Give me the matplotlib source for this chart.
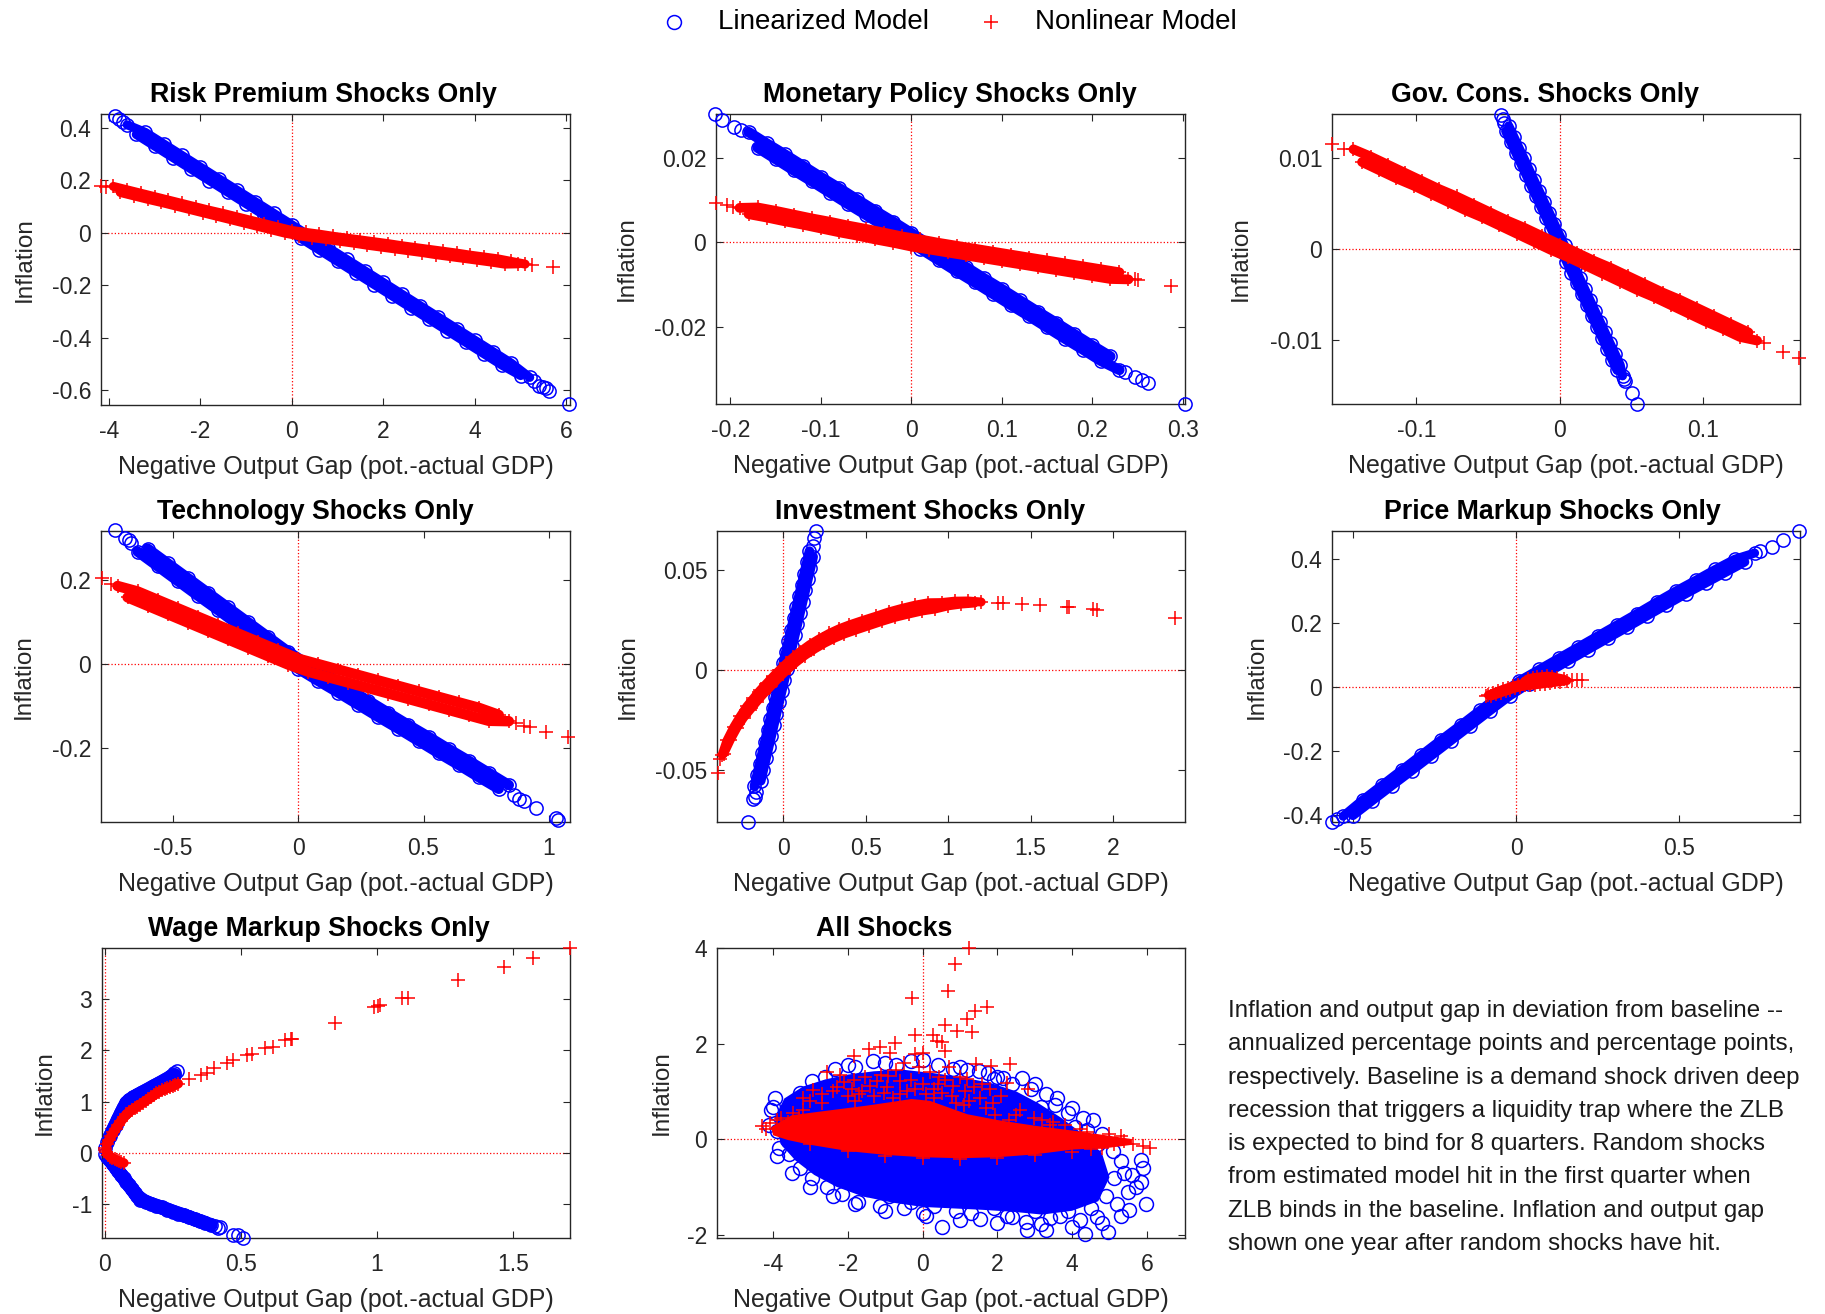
import matplotlib
matplotlib.use('Agg')
import matplotlib.pyplot as plt
from matplotlib.lines import Line2D
from matplotlib.ticker import FormatStrFormatter

plt.rcParams['font.family'] = ['Liberation Sans', 'DejaVu Sans']
plt.rcParams['axes.unicode_minus'] = False

W, H = 1825, 1314
XLABEL = 'Negative Output Gap (pot.-actual GDP)'
YLABEL = 'Inflation'

# ---- Risk premium shocks (x = neg. output gap, y = inflation) ----
risk_lin = [(-3.60, 0.411), (-3.40, 0.374), (-3.20, 0.382), (-3.00, 0.330), (-2.80, 0.338), (-2.60, 0.286),
            (-2.40, 0.294), (-2.20, 0.242), (-2.00, 0.250), (-1.80, 0.198), (-1.60, 0.206), (-1.40, 0.154),
            (-1.20, 0.162), (-1.00, 0.110), (-0.80, 0.118), (-0.60, 0.066), (-0.40, 0.074), (-0.20, 0.022),
            (0.00, 0.030), (0.20, -0.022), (0.40, -0.014), (0.60, -0.066), (0.80, -0.058), (1.00, -0.110),
            (1.20, -0.102), (1.40, -0.154), (1.60, -0.146), (1.80, -0.198), (2.00, -0.190), (2.20, -0.242),
            (2.40, -0.234), (2.60, -0.286), (2.80, -0.278), (3.00, -0.330), (3.20, -0.322), (3.40, -0.374),
            (3.60, -0.366), (3.80, -0.418), (4.00, -0.410), (4.20, -0.462), (4.40, -0.454), (4.60, -0.506),
            (4.80, -0.498), (5.00, -0.545), (5.20, -0.552)]
risk_lin_out = [(-3.87, 0.446), (-3.78, 0.433), (-3.70, 0.421), (5.30, -0.566), (5.40, -0.585), (5.48, -0.588),
                (5.55, -0.592), (5.62, -0.603), (6.06, -0.652)]
risk_nl = [(-3.90, 0.176), (-3.75, 0.153), (-3.60, 0.163), (-3.45, 0.140), (-3.30, 0.150), (-3.15, 0.127),
           (-3.00, 0.137), (-2.85, 0.115), (-2.70, 0.124), (-2.55, 0.102), (-2.40, 0.111), (-2.25, 0.089),
           (-2.10, 0.098), (-1.95, 0.076), (-1.80, 0.085), (-1.65, 0.063), (-1.50, 0.073), (-1.35, 0.050),
           (-1.20, 0.060), (-1.05, 0.037), (-0.90, 0.047), (-0.75, 0.024), (-0.60, 0.034), (-0.45, 0.011),
           (-0.30, 0.021), (-0.15, -0.002), (0.00, 0.008), (0.15, -0.012), (0.30, 0.001), (0.45, -0.019),
           (0.60, -0.006), (0.75, -0.026), (0.90, -0.014), (1.05, -0.033), (1.20, -0.021), (1.35, -0.040),
           (1.50, -0.028), (1.65, -0.048), (1.80, -0.035), (1.95, -0.055), (2.10, -0.042), (2.25, -0.062),
           (2.40, -0.050), (2.55, -0.069), (2.70, -0.057), (2.85, -0.076), (3.00, -0.064), (3.15, -0.084),
           (3.30, -0.071), (3.45, -0.091), (3.60, -0.078), (3.75, -0.098), (3.90, -0.086), (4.05, -0.105),
           (4.20, -0.093), (4.35, -0.112), (4.50, -0.100), (4.65, -0.120), (4.80, -0.110), (4.95, -0.119),
           (5.10, -0.120)]
risk_nl_out = [(-4.17, 0.179), (-4.05, 0.174), (5.25, -0.122), (5.70, -0.130)]

# ---- Monetary policy shocks ----
mon_lin = [(-0.180, 0.0262), (-0.170, 0.0225), (-0.160, 0.0235), (-0.150, 0.0198), (-0.140, 0.0209),
           (-0.130, 0.0171), (-0.120, 0.0182), (-0.110, 0.0145), (-0.100, 0.0155), (-0.090, 0.0118),
           (-0.080, 0.0129), (-0.070, 0.0091), (-0.060, 0.0102), (-0.050, 0.0065), (-0.040, 0.0075),
           (-0.030, 0.0038), (-0.020, 0.0049), (-0.010, 0.0011), (0.000, 0.0022), (0.010, -0.0015),
           (0.020, -0.0005), (0.030, -0.0042), (0.040, -0.0031), (0.050, -0.0069), (0.060, -0.0058),
           (0.070, -0.0095), (0.080, -0.0085), (0.090, -0.0122), (0.100, -0.0111), (0.110, -0.0149),
           (0.120, -0.0138), (0.130, -0.0175), (0.140, -0.0165), (0.150, -0.0202), (0.160, -0.0191),
           (0.170, -0.0229), (0.180, -0.0218), (0.190, -0.0255), (0.200, -0.0245), (0.210, -0.0282),
           (0.220, -0.0271), (0.230, -0.0303)]
mon_lin_out = [(-0.217, 0.0306), (-0.209, 0.0291), (-0.196, 0.0275), (-0.188, 0.0266), (0.236, -0.0307),
               (0.247, -0.0319), (0.2555, -0.0327), (0.262, -0.0333), (0.302, -0.0383)]
mon_nl = [(-0.19, 0.0082), (-0.18, 0.0067), (-0.17, 0.0083), (-0.16, 0.0059), (-0.15, 0.0075), (-0.14, 0.0050),
          (-0.13, 0.0066), (-0.12, 0.0042), (-0.11, 0.0057), (-0.10, 0.0033), (-0.09, 0.0049), (-0.08, 0.0024),
          (-0.07, 0.0040), (-0.06, 0.0016), (-0.05, 0.0032), (-0.04, 0.0007), (-0.03, 0.0023), (-0.02, -0.0001),
          (-0.01, 0.0014), (0.00, -0.0010), (0.01, 0.0007), (0.02, -0.0017), (0.03, -0.0001), (0.04, -0.0024),
          (0.05, -0.0008), (0.06, -0.0031), (0.07, -0.0015), (0.08, -0.0038), (0.09, -0.0022), (0.10, -0.0045),
          (0.11, -0.0029), (0.12, -0.0052), (0.13, -0.0036), (0.14, -0.0059), (0.15, -0.0043), (0.16, -0.0066),
          (0.17, -0.0050), (0.18, -0.0073), (0.19, -0.0057), (0.20, -0.0080), (0.21, -0.0064), (0.22, -0.0087),
          (0.23, -0.0071), (0.24, -0.0088)]
mon_nl_out = [(-0.216, 0.0093), (-0.204, 0.0089), (-0.197, 0.0084), (0.247, -0.0088), (0.250, -0.0090),
              (0.287, -0.0103)]

# ---- Government consumption shocks ----
gov_lin = [(-0.0355, 0.0136), (-0.0377, 0.0130), (-0.0319, 0.0124), (-0.0342, 0.0118), (-0.0284, 0.0112),
           (-0.0306, 0.0106), (-0.0248, 0.0100), (-0.0271, 0.0094), (-0.0213, 0.0088), (-0.0235, 0.0082),
           (-0.0178, 0.0076), (-0.0200, 0.0070), (-0.0142, 0.0064), (-0.0165, 0.0058), (-0.0107, 0.0052),
           (-0.0129, 0.0046), (-0.0071, 0.0040), (-0.0094, 0.0034), (-0.0036, 0.0028), (-0.0058, 0.0022),
           (-0.0001, 0.0016), (-0.0023, 0.0010), (0.0035, 0.0004), (0.0012, -0.0002), (0.0070, -0.0008),
           (0.0048, -0.0014), (0.0106, -0.0020), (0.0083, -0.0026), (0.0141, -0.0032), (0.0119, -0.0038),
           (0.0176, -0.0044), (0.0154, -0.0050), (0.0212, -0.0056), (0.0189, -0.0062), (0.0247, -0.0068),
           (0.0225, -0.0074), (0.0283, -0.0080), (0.0260, -0.0086), (0.0318, -0.0092), (0.0296, -0.0098),
           (0.0353, -0.0104), (0.0331, -0.0110), (0.0389, -0.0116), (0.0366, -0.0122), (0.0424, -0.0128),
           (0.0402, -0.0134), (0.0440, -0.0140)]
gov_lin_out = [(-0.0410, 0.0148), (-0.0395, 0.0143), (-0.0385, 0.0139), (0.0450, -0.0143), (0.0457, -0.0146),
               (0.0507, -0.0159), (0.0539, -0.0171)]
gov_nl = [(-0.144, 0.0110), (-0.138, 0.0096), (-0.132, 0.0102), (-0.126, 0.0087), (-0.120, 0.0093),
          (-0.114, 0.0078), (-0.108, 0.0084), (-0.102, 0.0070), (-0.096, 0.0075), (-0.090, 0.0061),
          (-0.084, 0.0066), (-0.078, 0.0052), (-0.072, 0.0058), (-0.066, 0.0043), (-0.060, 0.0049),
          (-0.054, 0.0035), (-0.048, 0.0040), (-0.042, 0.0026), (-0.036, 0.0031), (-0.030, 0.0017),
          (-0.024, 0.0023), (-0.018, 0.0008), (-0.012, 0.0014), (-0.006, -0.0001), (0.000, 0.0005),
          (0.006, -0.0009), (0.012, -0.0004), (0.018, -0.0018), (0.024, -0.0013), (0.030, -0.0027),
          (0.036, -0.0021), (0.042, -0.0036), (0.048, -0.0030), (0.054, -0.0045), (0.060, -0.0039),
          (0.066, -0.0053), (0.072, -0.0048), (0.078, -0.0062), (0.084, -0.0056), (0.090, -0.0071),
          (0.096, -0.0065), (0.102, -0.0080), (0.108, -0.0074), (0.114, -0.0088), (0.120, -0.0083),
          (0.126, -0.0097), (0.132, -0.0092), (0.138, -0.0101)]
gov_nl_out = [(-0.159, 0.0116), (-0.1503, 0.0110), (0.1428, -0.0104), (0.1563, -0.0114), (0.167, -0.0120)]

# ---- Technology shocks ----
tech_lin = [(-0.64, 0.267), (-0.60, 0.274), (-0.56, 0.232), (-0.52, 0.239), (-0.48, 0.197), (-0.44, 0.204),
            (-0.40, 0.162), (-0.36, 0.169), (-0.32, 0.128), (-0.28, 0.134), (-0.24, 0.093), (-0.20, 0.099),
            (-0.16, 0.058), (-0.12, 0.064), (-0.08, 0.023), (-0.04, 0.029), (0.00, -0.012), (0.04, -0.002),
            (0.08, -0.041), (0.12, -0.031), (0.16, -0.069), (0.20, -0.060), (0.24, -0.098), (0.28, -0.088),
            (0.32, -0.127), (0.36, -0.117), (0.40, -0.155), (0.44, -0.146), (0.48, -0.184), (0.52, -0.174),
            (0.56, -0.213), (0.60, -0.203), (0.64, -0.241), (0.68, -0.231), (0.72, -0.270), (0.76, -0.260),
            (0.80, -0.298), (0.84, -0.289)]
tech_lin_out = [(-0.730, 0.318), (-0.690, 0.300), (-0.675, 0.294), (-0.665, 0.288), (0.860, -0.312),
                (0.880, -0.322), (0.900, -0.328), (0.950, -0.344), (1.030, -0.368), (1.036, -0.373)]
tech_nl = [(-0.72, 0.185), (-0.68, 0.158), (-0.64, 0.172), (-0.60, 0.138), (-0.56, 0.152), (-0.52, 0.118),
           (-0.48, 0.132), (-0.44, 0.098), (-0.40, 0.112), (-0.36, 0.078), (-0.32, 0.092), (-0.28, 0.058),
           (-0.24, 0.072), (-0.20, 0.038), (-0.16, 0.052), (-0.12, 0.018), (-0.08, 0.032), (-0.04, -0.002),
           (0.00, 0.012), (0.04, -0.019), (0.08, -0.001), (0.12, -0.032), (0.16, -0.014), (0.20, -0.045),
           (0.24, -0.027), (0.28, -0.058), (0.32, -0.040), (0.36, -0.071), (0.40, -0.053), (0.44, -0.084),
           (0.48, -0.066), (0.52, -0.097), (0.56, -0.079), (0.60, -0.110), (0.64, -0.092), (0.68, -0.123),
           (0.72, -0.105), (0.76, -0.136), (0.80, -0.122), (0.84, -0.137)]
tech_nl_out = [(-0.781, 0.203), (-0.745, 0.190), (0.870, -0.142), (0.900, -0.148), (0.926, -0.151),
               (0.989, -0.162), (1.076, -0.174)]

# ---- Investment shocks ----
inv_lin = [(0.1595, 0.0594), (0.1816, 0.0566), (0.1436, 0.0538), (0.1657, 0.0510), (0.1277, 0.0482),
           (0.1498, 0.0454), (0.1119, 0.0426), (0.1339, 0.0398), (0.0960, 0.0370), (0.1180, 0.0342),
           (0.0801, 0.0314), (0.1021, 0.0286), (0.0642, 0.0258), (0.0863, 0.0230), (0.0483, 0.0202),
           (0.0704, 0.0174), (0.0324, 0.0146), (0.0545, 0.0118), (0.0165, 0.0090), (0.0386, 0.0062),
           (0.0006, 0.0034), (0.0227, 0.0006), (-0.0152, -0.0022), (0.0068, -0.0050), (-0.0311, -0.0078),
           (-0.0091, -0.0106), (-0.0470, -0.0134), (-0.0250, -0.0162), (-0.0629, -0.0190), (-0.0408, -0.0218),
           (-0.0788, -0.0246), (-0.0567, -0.0274), (-0.0947, -0.0302), (-0.0726, -0.0330), (-0.1106, -0.0358),
           (-0.0885, -0.0386), (-0.1265, -0.0414), (-0.1044, -0.0442), (-0.1423, -0.0470), (-0.1203, -0.0498),
           (-0.1582, -0.0526), (-0.1362, -0.0554), (-0.1741, -0.0582)]
inv_lin_out = [(0.197, 0.0695), (0.190, 0.0660), (0.1825, 0.0622), (-0.1671, -0.0610), (-0.173, -0.0633),
               (-0.180, -0.0645), (-0.214, -0.0758)]
inv_nl = [(-0.37, -0.0425), (-0.36, -0.0418), (-0.34, -0.0352), (-0.32, -0.0348), (-0.30, -0.0287),
          (-0.28, -0.0288), (-0.26, -0.0232), (-0.24, -0.0238), (-0.22, -0.0182), (-0.20, -0.0198),
          (-0.18, -0.0142), (-0.16, -0.0158), (-0.14, -0.0102), (-0.12, -0.0120), (-0.10, -0.0067),
          (-0.08, -0.0086), (-0.06, -0.0032), (-0.04, -0.0051), (-0.02, 0.0001), (0.00, -0.0018),
          (0.02, 0.0033), (0.04, 0.0012), (0.06, 0.0063), (0.08, 0.0040), (0.10, 0.0090), (0.13, 0.0072),
          (0.16, 0.0126), (0.19, 0.0105), (0.22, 0.0156), (0.25, 0.0134), (0.28, 0.0183), (0.31, 0.0159),
          (0.34, 0.0206), (0.37, 0.0180), (0.40, 0.0225), (0.44, 0.0200), (0.48, 0.0247), (0.52, 0.0222),
          (0.56, 0.0268), (0.60, 0.0244), (0.64, 0.0290), (0.68, 0.0264), (0.72, 0.0308), (0.76, 0.0280),
          (0.80, 0.0324), (0.84, 0.0295), (0.88, 0.0336), (0.92, 0.0305), (0.96, 0.0337), (1.00, 0.0321),
          (1.04, 0.0344), (1.08, 0.0330), (1.12, 0.0345), (1.16, 0.0335), (1.20, 0.0340)]
inv_nl_out = [(-0.395, -0.0517), (-0.380, -0.0445), (1.30, 0.0336), (1.33, 0.0334), (1.45, 0.0328),
              (1.56, 0.0326), (1.72, 0.0313), (1.73, 0.0317), (1.88, 0.0305), (1.90, 0.0300), (2.375, 0.0258)]

# ---- Price markup shocks ----
price_lin = [(-0.53, -0.405), (-0.50, -0.403), (-0.47, -0.354), (-0.44, -0.356), (-0.41, -0.307),
             (-0.38, -0.309), (-0.35, -0.260), (-0.32, -0.263), (-0.29, -0.213), (-0.26, -0.216),
             (-0.23, -0.166), (-0.20, -0.169), (-0.17, -0.120), (-0.14, -0.122), (-0.11, -0.073),
             (-0.08, -0.075), (-0.05, -0.026), (-0.02, -0.029), (0.01, 0.019), (0.04, 0.010), (0.07, 0.054),
             (0.10, 0.046), (0.13, 0.089), (0.16, 0.081), (0.19, 0.124), (0.22, 0.116), (0.25, 0.159),
             (0.28, 0.151), (0.31, 0.194), (0.34, 0.186), (0.37, 0.229), (0.40, 0.221), (0.43, 0.265),
             (0.46, 0.256), (0.49, 0.300), (0.52, 0.291), (0.55, 0.333), (0.58, 0.324), (0.61, 0.367),
             (0.64, 0.357), (0.67, 0.399), (0.70, 0.390), (0.73, 0.418)]
price_lin_out = [(-0.565, -0.422), (-0.548, -0.414), (0.745, 0.424), (0.783, 0.437), (0.818, 0.458),
                 (0.867, 0.486)]
price_nl = [(-0.085, -0.026), (-0.078, -0.029), (-0.070, -0.020), (-0.062, -0.024), (-0.055, -0.014),
            (-0.048, -0.019), (-0.040, -0.008), (-0.032, -0.014), (-0.025, -0.003), (-0.018, -0.009),
            (-0.010, 0.002), (-0.003, -0.004), (0.005, 0.006), (0.012, 0.000), (0.020, 0.010), (0.028, 0.004),
            (0.035, 0.024), (0.043, 0.004), (0.050, 0.028), (0.058, 0.006), (0.065, 0.030), (0.073, 0.008),
            (0.080, 0.032), (0.088, 0.010), (0.095, 0.033), (0.103, 0.012), (0.110, 0.032), (0.118, 0.014),
            (0.125, 0.028), (0.135, 0.016), (0.145, 0.024), (0.155, 0.019)]
price_nl_out = [(-0.092, -0.030), (0.170, 0.021), (0.185, 0.022), (0.203, 0.021)]

# ---- Wage markup shocks ----
wage_lin_up = [(0.000, 0.10), (0.010, 0.21), (0.020, 0.33), (0.030, 0.44), (0.040, 0.55), (0.050, 0.66),
               (0.060, 0.77), (0.070, 0.88), (0.080, 0.98), (0.090, 1.03), (0.105, 1.08), (0.120, 1.12),
               (0.135, 1.17), (0.150, 1.21), (0.165, 1.25), (0.180, 1.30), (0.195, 1.34), (0.210, 1.38),
               (0.225, 1.43), (0.240, 1.47), (0.255, 1.52)]
wage_lin_dn = [(0.000, -0.02), (0.010, -0.09), (0.020, -0.15), (0.030, -0.22), (0.040, -0.29), (0.050, -0.36),
               (0.060, -0.43), (0.070, -0.50), (0.080, -0.57), (0.090, -0.64), (0.100, -0.71), (0.110, -0.78),
               (0.120, -0.85), (0.131, -0.92), (0.150, -0.96), (0.170, -1.00), (0.190, -1.04), (0.210, -1.07),
               (0.230, -1.11), (0.250, -1.15), (0.270, -1.19), (0.290, -1.22), (0.310, -1.26), (0.330, -1.30),
               (0.350, -1.34), (0.370, -1.37), (0.390, -1.41)]
wage_lin_out = [(0.255, 1.56), (0.265, 1.60), (0.245, 1.50), (0.405, -1.44), (0.415, -1.47), (0.425, -1.45),
                (0.473, -1.61), (0.490, -1.60), (0.510, -1.66)]
wage_nl_up = [(0.000, 0.10), (0.008, 0.17), (0.016, 0.25), (0.024, 0.33), (0.032, 0.40), (0.040, 0.47),
              (0.050, 0.55), (0.060, 0.62), (0.070, 0.69), (0.080, 0.75), (0.090, 0.80), (0.100, 0.84),
              (0.110, 0.87), (0.120, 0.90), (0.130, 0.94), (0.140, 0.98), (0.150, 1.01), (0.160, 1.05),
              (0.170, 1.08), (0.180, 1.12), (0.190, 1.16), (0.200, 1.19), (0.210, 1.22), (0.220, 1.24),
              (0.230, 1.26), (0.240, 1.28), (0.250, 1.30), (0.260, 1.33), (0.270, 1.35)]
wage_nl_dn = [(0.000, 0.05), (0.005, 0.02), (0.012, -0.04), (0.020, -0.08), (0.028, -0.11), (0.036, -0.13),
              (0.044, -0.15), (0.052, -0.17), (0.060, -0.19), (0.070, -0.20)]
wage_nl_out = [(0.310, 1.44), (0.355, 1.52), (0.375, 1.55), (0.400, 1.65), (0.451, 1.745), (0.473, 1.81),
               (0.524, 1.91), (0.540, 1.93), (0.589, 2.04), (0.618, 2.07), (0.662, 2.20), (0.684, 2.23),
               (0.690, 2.22), (0.845, 2.54), (0.990, 2.85), (1.005, 2.86), (1.012, 2.88), (1.093, 3.02),
               (1.115, 3.03), (1.297, 3.37), (1.467, 3.62), (1.573, 3.80), (1.710, 4.00)]

# ---- All shocks: outline of the solid core and scattered points ----
all_lin_core = [(-3.95, 0.45), (-3.7, 0.85), (-3.2, 1.1), (-2.6, 1.25), (-2.0, 1.35), (-1.3, 1.42), (-0.5, 1.45),
                (0.3, 1.38), (1.0, 1.3), (1.8, 1.18), (2.5, 1.0), (3.1, 0.75), (3.7, 0.45), (4.3, 0.1),
                (4.8, -0.3), (5.0, -0.8), (4.7, -1.3), (4.0, -1.5), (3.2, -1.58), (2.4, -1.52), (1.6, -1.48),
                (0.8, -1.45), (0.0, -1.42), (-0.8, -1.33), (-1.6, -1.2), (-2.3, -1.0), (-2.9, -0.75),
                (-3.4, -0.45), (-3.8, -0.1)]
all_lin_pts = [(-3.94, 0.85), (-3.99, 0.68), (-3.89, 0.18), (-3.84, -0.18), (-3.58, -0.32), (-3.28, -0.60),
               (-2.97, -0.82), (-2.56, -1.00), (-2.15, -1.14), (-1.74, -1.31), (-1.13, -1.39), (-0.31, -1.31),
               (0.10, -1.60), (0.51, -1.85), (1.54, -1.67), (2.25, -1.60), (2.76, -1.74), (3.17, -1.78),
               (3.68, -1.60), (4.35, -1.99), (4.96, -1.95), (4.66, -1.63), (5.53, -1.49), (5.99, -1.35),
               (5.83, -0.89), (5.89, -0.60), (5.83, -0.43), (5.32, -0.46), (5.12, -0.82), (4.55, 0.39),
               (4.09, 0.25), (3.53, 0.71), (3.17, 0.68), (2.66, 1.28), (2.15, 1.28), (1.74, 1.39), (0.82, 1.46),
               (-0.31, 1.63), (-1.33, 1.63), (-2.35, 1.46), (-2.97, 1.21), (-3.28, 0.96), (-3.58, 0.68),
               (-3.70, 0.30), (-3.60, -0.05), (-3.20, -0.30), (-2.60, -0.60), (-2.00, -0.90), (-1.50, -1.05),
               (-0.90, -1.20), (-0.50, -1.45), (0.30, -1.40), (0.90, -1.50), (1.30, -1.55), (1.90, -1.45),
               (2.40, -1.62), (3.00, -1.50), (3.40, -1.65), (3.90, -1.50), (4.20, -1.70), (4.50, -1.45),
               (4.90, -1.20), (5.20, -1.35), (5.50, -1.10), (5.40, -0.70), (5.10, -0.25), (4.80, 0.10),
               (4.30, 0.45), (3.90, 0.55), (3.30, 0.95), (2.90, 1.05), (2.40, 1.15), (1.90, 1.25), (1.20, 1.45),
               (0.40, 1.55), (-0.70, 1.55), (-1.80, 1.50), (-2.60, 1.30), (-3.40, 0.75),
               (-2.00, 1.55), (-1.00, 1.60), (0.00, 1.65), (1.00, 1.50), (1.50, 1.42), (2.00, 1.30), (3.00, 1.15),
               (3.60, 0.85), (4.00, 0.65), (4.40, 0.20), (4.70, -0.10), (5.60, -0.75), (5.70, -1.00),
               (5.30, -1.60), (4.80, -1.75), (4.00, -1.85), (3.30, -1.90), (2.80, -1.90), (2.00, -1.75),
               (1.00, -1.70), (0.00, -1.55), (-1.00, -1.50), (-1.80, -1.35), (-2.40, -1.20), (-3.00, -1.00),
               (-3.50, -0.70), (-3.90, -0.35), (-4.10, 0.30), (-4.05, 0.60)]
all_nl_core = [(-4.05, 0.25), (-3.5, 0.5), (-2.5, 0.6), (-1.5, 0.7), (-0.8, 0.78), (-0.3, 0.84), (0.2, 0.8),
               (0.7, 0.66), (1.2, 0.52), (2.0, 0.4), (3.0, 0.28), (4.0, 0.18), (5.0, 0.07), (5.6, 0.0),
               (5.6, -0.12), (5.0, -0.18), (4.0, -0.22), (3.0, -0.32), (2.0, -0.38), (1.0, -0.40), (0.0, -0.38),
               (-1.0, -0.33), (-2.0, -0.25), (-3.0, -0.12), (-3.6, -0.02), (-4.0, 0.08)]
all_nl_pts = [(1.23, 3.99), (0.87, 3.66), (0.67, 3.11), (-0.29, 2.96), (1.72, 2.77), (1.41, 2.68), (1.18, 2.51),
              (0.61, 2.38), (0.92, 2.27), (1.31, 2.24), (0.29, 2.17), (0.39, 2.06), (0.51, 2.03), (-0.20, 2.17),
              (0.61, 1.85), (-0.74, 2.01), (-1.13, 1.92), (-1.43, 1.88), (-1.84, 1.73), (-0.20, 1.78),
              (0.00, 1.81), (-0.87, 1.81), (1.43, 1.58), (1.82, 1.53), (2.35, 1.58), (2.27, 1.17), (2.81, 1.04),
              (1.89, 0.76), (1.94, 0.50), (-2.56, 1.40), (-2.20, 1.35), (-1.84, 1.24), (-1.54, 1.30),
              (-1.23, 1.21), (-0.92, 1.33), (-0.61, 1.21), (-0.31, 1.24), (0.00, 1.16), (0.31, 1.04),
              (0.61, 1.24), (0.82, 1.12), (1.13, 1.00), (1.38, 1.10), (1.10, 0.71), (-2.92, 1.03), (-3.19, 0.87),
              (-2.41, 1.00), (-2.00, 0.90), (-1.62, 1.00), (-1.02, 0.96), (-0.41, 1.00), (0.51, 0.96),
              (1.54, 0.85), (2.61, 0.60), (2.97, 0.45), (-3.48, 0.55), (-4.30, 0.28), (-4.09, 0.33),
              (-4.20, 0.22), (5.32, 0.07), (5.63, -0.11), (5.89, -0.14), (6.09, -0.18), (4.81, -0.18),
              (5.12, -0.11), (4.50, -0.21), (5.40, -0.04), (4.50, -0.10), (-3.00, -0.10), (-2.00, -0.25),
              (-1.00, -0.35), (0.00, -0.40), (1.00, -0.42), (2.00, -0.40), (3.00, -0.34), (4.00, -0.26),
              (-3.80, 0.45), (-3.20, 0.60), (-2.70, 0.75), (-1.80, 0.80), (-0.80, 0.85), (0.30, 0.85),
              (0.90, 0.75), (2.30, 0.40), (3.40, 0.30), (4.20, 0.22), (3.50, 0.35),
              (-2.30, 1.10), (-1.90, 1.05), (-1.40, 1.12), (-1.10, 1.35), (-0.70, 1.45), (-0.50, 1.60),
              (-0.10, 1.50), (0.20, 1.40), (0.45, 1.30), (0.70, 1.50), (1.00, 1.30), (1.20, 1.25), (1.60, 1.15),
              (1.80, 1.05), (2.10, 0.90), (-2.70, 0.95), (-3.00, 0.80), (-0.20, 1.05), (0.10, 0.95), (0.40, 1.15),
              (-1.30, 0.90), (-0.95, 1.10), (-0.60, 0.95), (-1.70, 0.95), (-2.10, 1.20), (0.80, 0.90),
              (1.25, 0.80), (1.70, 0.65), (2.50, 0.50), (3.20, 0.40), (3.80, 0.30), (4.40, 0.15), (5.00, 0.10),
              (-3.60, 0.35), (-3.30, 0.45), (-3.90, 0.40)]

note_lines = [
    'Inflation and output gap in deviation from baseline --',
    'annualized percentage points and percentage points,',
    'respectively. Baseline is a demand shock driven deep',
    'recession that triggers a liquidity trap where the ZLB',
    'is expected to bind for 8 quarters. Random shocks',
    'from estimated model hit in the first quarter when',
    'ZLB binds in the baseline. Inflation and output gap',
    'shown one year after random shocks have hit.',
]

panels = [
    dict(title='Risk Premium Shocks Only', box=(101, 114, 570, 405), xlim=(-4.17, 6.08), ylim=(-0.657, 0.452),
         xticks=[-4, -2, 0, 2, 4, 6], yticks=[-0.6, -0.4, -0.2, 0, 0.2, 0.4], tx=0.475, ydx=76,
         lin=([risk_lin], risk_lin_out), nl=([risk_nl], risk_nl_out), lw=(6.5, 6.5)),
    dict(title='Monetary Policy Shocks Only', box=(716, 114, 1185, 404), xlim=(-0.216, 0.3025),
         ylim=(-0.0384, 0.0305), xticks=[-0.2, -0.1, 0, 0.1, 0.2, 0.3], yticks=[-0.02, 0, 0.02], tx=0.499,
         ydx=89, lin=([mon_lin], mon_lin_out), nl=([mon_nl], mon_nl_out), lw=(7.5, 7)),
    dict(title='Gov. Cons. Shocks Only', box=(1332, 114, 1800, 404), xlim=(-0.159, 0.168),
         ylim=(-0.0171, 0.0149), xticks=[-0.1, 0, 0.1], yticks=[-0.01, 0, 0.01], tx=0.455, ydx=91,
         lin=([gov_lin], gov_lin_out), nl=([gov_nl], gov_nl_out), lw=(6.5, 7)),
    dict(title='Technology Shocks Only', box=(101, 531, 570, 822), xlim=(-0.786, 1.084), ylim=(-0.377, 0.316),
         xticks=[-0.5, 0, 0.5, 1], yticks=[-0.2, 0, 0.2], tx=0.458, ydx=77,
         lin=([tech_lin], tech_lin_out), nl=([tech_nl], tech_nl_out), lw=(7.5, 7.5)),
    dict(title='Investment Shocks Only', box=(717, 531, 1185, 822), xlim=(-0.401, 2.436), ylim=(-0.076, 0.0695),
         xticks=[0, 0.5, 1, 1.5, 2], yticks=[-0.05, 0, 0.05], tx=0.456, ydx=89,
         lin=([inv_lin], inv_lin_out), nl=([inv_nl], inv_nl_out), lw=(7, 6.5)),
    dict(title='Price Markup Shocks Only', box=(1332, 531, 1800, 822), xlim=(-0.564, 0.869), ylim=(-0.423, 0.487),
         xticks=[-0.5, 0, 0.5], yticks=[-0.4, -0.2, 0, 0.2, 0.4], tx=0.4715, ydx=75,
         lin=([price_lin], price_lin_out), nl=([price_nl], price_nl_out), lw=(6.5, 6.5)),
    dict(title='Wage Markup Shocks Only', box=(102, 948, 570, 1238), xlim=(-0.010, 1.71), ylim=(-1.666, 4.0),
         xticks=[0, 0.5, 1, 1.5], yticks=[-1, 0, 1, 2, 3], tx=0.464, ydx=57,
         lin=([wage_lin_up, wage_lin_dn], wage_lin_out), nl=([wage_nl_up, wage_nl_dn], wage_nl_out),
         lw=(10, 7)),
    dict(title='All Shocks', box=(717, 948, 1185, 1238), xlim=(-5.5, 7.02), ylim=(-2.07, 4.0),
         xticks=[-4, -2, 0, 2, 4, 6], yticks=[-2, 0, 2, 4], tx=0.357, ydx=55,
         lin=([], all_lin_pts), nl=([], all_nl_pts), cores=(all_lin_core, all_nl_core), lw=(0, 0)),
]

BLUE = '#0000ff'
RED = '#ff0000'
GREY = '#262626'


def draw_series(ax, bands, extra, color, marker, lw, ms, z):
    # the dense part of each cloud: two strokes through alternate points fill the band
    for band in bands:
        for half in (band[::2], band[1::2]):
            if len(half) > 1:
                ax.plot([p[0] for p in half], [p[1] for p in half], color=color, lw=lw,
                        solid_capstyle='round', solid_joinstyle='round', zorder=z)
    pts = [p for band in bands for p in band] + extra
    ax.plot([p[0] for p in pts], [p[1] for p in pts], ls='none', marker=marker, ms=ms,
            mfc='none', mec=color, mew=1.1, zorder=z + 1, clip_on=False)


def main():
    fig = plt.figure(figsize=(W / 100, H / 100), dpi=100)

    for p in panels:
        l, t, r, b = p['box']
        ax = fig.add_axes([l / W, 1 - b / H, (r - l) / W, (b - t) / H])
        ax.set_xlim(p['xlim'])
        ax.set_ylim(p['ylim'])
        ax.set_xticks(p['xticks'])
        ax.set_yticks(p['yticks'])
        ax.xaxis.set_major_formatter(FormatStrFormatter('%g'))
        ax.yaxis.set_major_formatter(FormatStrFormatter('%g'))
        ax.tick_params(direction='in', length=5, width=0.8, top=True, right=True,
                       colors=GREY, labelsize=16.5)
        ax.tick_params(axis='x', pad=11)
        ax.tick_params(axis='y', pad=7)
        for s in ax.spines.values():
            s.set_color(GREY)
            s.set_linewidth(1.0)

        ax.axhline(0, color=RED, ls=':', lw=0.9, zorder=1)
        ax.axvline(0, color=RED, ls=':', lw=0.9, zorder=1)

        big = 'cores' in p
        ms = 10 if big else 9.5
        if big:
            lin_core, nl_core = p['cores']
            ax.fill([q[0] for q in lin_core], [q[1] for q in lin_core], color=BLUE, lw=0, zorder=2)
        draw_series(ax, p['lin'][0], p['lin'][1], BLUE, 'o', p['lw'][0], ms, 2)
        if big:
            ax.fill([q[0] for q in nl_core], [q[1] for q in nl_core], color=RED, lw=0, zorder=4)
        draw_series(ax, p['nl'][0], p['nl'][1], RED, '+', p['lw'][1], ms, 4)

        ax.set_xlabel(XLABEL, fontsize=18, color=GREY)
        ax.set_ylabel(YLABEL, fontsize=17.5, color=GREY)
        ax.xaxis.set_label_coords(0.5, -62 / (b - t))
        ax.xaxis.label.set_va('center')
        ax.yaxis.set_label_coords(-p['ydx'] / (r - l), 0.5)
        ax.yaxis.label.set_va('center')
        ax.text(p['tx'], 1.042, p['title'], transform=ax.transAxes, ha='center', va='baseline',
                fontsize=19.3, fontweight='bold', color='black')

    # legend across the top
    ly = 1 - 22 / H
    fig.add_artist(Line2D([674 / W], [ly], transform=fig.transFigure, marker='o', ms=10,
                          mfc='none', mec=BLUE, mew=1.1, ls='none'))
    fig.text(718 / W, ly, 'Linearized Model', fontsize=20, va='center', ha='left', color='black')
    fig.add_artist(Line2D([991 / W], [ly], transform=fig.transFigure, marker='+', ms=10.5,
                          mec=RED, mew=1.1, ls='none'))
    fig.text(1035 / W, ly, 'Nonlinear Model', fontsize=20, va='center', ha='left', color='black')

    # note in the empty cell
    for i, line in enumerate(note_lines):
        fig.text(1228 / W, 1 - (1011 + 33.3 * i) / H, line, fontsize=17.4, va='center', ha='left',
                 color='#1a1a1a')

    fig.savefig('out.png', dpi=100)


if __name__ == "__main__":
    main()
